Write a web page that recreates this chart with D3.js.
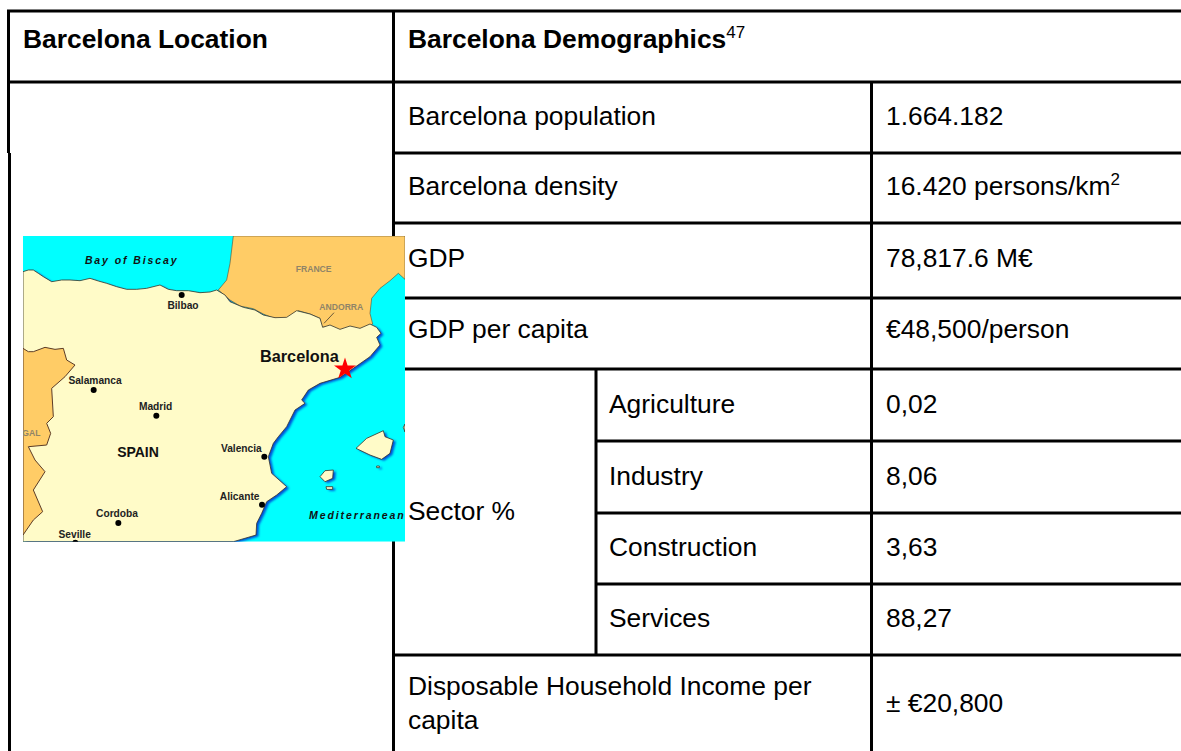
<!DOCTYPE html>
<html>
<head>
<meta charset="utf-8">
<script src="https://cdn.jsdelivr.net/npm/d3@7"></script>
<style>
  html, body { margin: 0; padding: 0; background: #fff; }
  svg { display: block; }
  text { font-family: "Liberation Sans", Arial, sans-serif; }
</style>
</head>
<body>
<script>
// Table contents
var headers = ["Barcelona Location", "Barcelona Demographics"];
var headerNote = "47";
var rowLabels = ["Barcelona population", "Barcelona density", "GDP", "GDP per capita"];
var rowValues = ["1.664.182", "16.420 persons/km", "78,817.6 M€", "€48,500/person"];
var sectorTitle = "Sector %";
var sectors = ["Agriculture", "Industry", "Construction", "Services"];
var sectorValues = ["0,02", "8,06", "3,63", "88,27"];
var incomeLabel = ["Disposable Household Income per", "capita"];
var incomeValue = "± €20,800";

// Map outlines in map units
var franceShape = [[700,48],[1215,48],[1215,178],[1195,160],[1170,182],[1140,205],[1115,235],[1110,280],[1118,312],[1100,320],[1075,328],[1050,320],[1020,330],[990,318],[965,322],[960,295],[930,282],[895,272],[880,292],[850,297],[820,294],[790,282],[760,266],[720,258],[690,240],[655,210],[680,180],[690,130]];
var spainShape = [[69,155],[85,150],[100,150],[115,160],[130,170],[155,185],[185,180],[210,180],[240,182],[270,175],[295,183],[320,190],[350,200],[380,208],[410,208],[440,205],[480,195],[505,208],[530,212],[565,212],[600,218],[630,216],[650,210],[675,225],[690,245],[730,262],[765,270],[790,285],[825,293],[860,292],[890,272],[930,282],[960,295],[968,322],[990,315],[1020,328],[1050,318],[1080,325],[1110,312],[1130,322],[1143,340],[1130,352],[1140,375],[1110,410],[1060,445],[1020,472],[960,490],[925,510],[905,540],[915,550],[885,570],[860,620],[835,650],[820,670],[805,710],[815,760],[860,800],[830,825],[800,845],[785,880],[770,910],[768,945],[700,965],[69,965]];
var portugalShape = [[69,385],[85,395],[100,395],[135,382],[165,388],[190,385],[200,420],[225,435],[195,470],[155,505],[160,590],[140,610],[152,640],[140,675],[85,680],[105,720],[135,755],[100,810],[128,875],[100,900],[69,945]];
var islandShapes = [
  [[1068,685],[1100,655],[1150,632],[1155,650],[1180,660],[1170,700],[1145,718],[1110,705]],
  [[960,770],[975,752],[1000,750],[998,775],[975,785]],
  [[978,800],[998,800],[998,808],[980,808]],
  [[1130,738],[1138,738],[1138,743],[1130,743]],
  [[1215,612],[1210,622],[1215,636]]
];
var andorraPointer = [[1002,278],[972,310]];

var cityNames = ["Bilbao", "Salamanca", "Madrid", "Valencia", "Alicante", "Cordoba", "Seville"];
var cityPoints = [[545,225],[281,510],[469,587],[793,710],[786,854],[355,909],[226,968]];
var cityLabelPoints = [[549,266],[285,491],[467,569],[724,697],[719,841],[351,891],[224,953]];
var seaNames = ["Bay of Biscay", "Mediterranean"];
var seaLabelPoints = [[395,131],[1072,898]];
var regionNames = ["FRANCE", "ANDORRA", "GAL"];
var regionLabelPoints = [[941,155],[1024,271],[94,648]];
var bigLabels = ["Barcelona"];
var bigLabelPoints = [[898,425]];
var countryLabels = ["SPAIN"];
var countryLabelPoints = [[414,712]];
var starPoint = [1035,447];

var width = 1181, height = 751;
var svg = d3.select("body").append("svg").attr("width", width).attr("height", height);

// Map scales
var mapX = d3.scaleLinear().domain([69, 1215]).range([23, 405]);
var mapY = d3.scaleLinear().domain([48, 965]).range([236, 541.7]);
var outline = d3.line().x(function(d) { return mapX(d[0]); }).y(function(d) { return mapY(d[1]); }).curve(d3.curveLinearClosed);

// Table grid
var colLeft = 9, colMain = 393.5, colSector = 596, colValue = 871.5;
var lineTop = 11, lineHead = 82, lines = [153, 223, 298, 369, 655], sectorLines = [441, 513, 584];

function hLine(x1, x2, y) {
  svg.append("line").attr("x1", x1).attr("x2", x2).attr("y1", y).attr("y2", y)
    .attr("stroke", "#000").attr("stroke-width", 3);
}
function vLine(x, y1, y2) {
  svg.append("line").attr("x1", x).attr("x2", x).attr("y1", y1).attr("y2", y2)
    .attr("stroke", "#000").attr("stroke-width", 3);
}

hLine(7, width, lineTop);
hLine(7, width, lineHead);
lines.forEach(function(y) { hLine(colMain, width, y); });
sectorLines.forEach(function(y) { hLine(colSector, width, y); });
vLine(8.5, lineTop - 1, 153);
vLine(colLeft + 0.5, 153, height);
vLine(colMain, lineTop, height);
vLine(colValue, lineHead, height);
vLine(colSector, 369, 655);

// Map
var defs = svg.append("defs");
defs.append("clipPath").attr("id", "mapClip").append("rect")
  .attr("x", mapX(69)).attr("y", mapY(48))
  .attr("width", mapX(1215) - mapX(69)).attr("height", mapY(965) - mapY(48));
defs.append("filter").attr("id", "soft").append("feGaussianBlur").attr("stdDeviation", 0.4);
defs.append("filter").attr("id", "shade").append("feGaussianBlur").attr("stdDeviation", 0.9);

var map = svg.append("g").attr("clip-path", "url(#mapClip)");
map.append("rect")
  .attr("x", mapX(69)).attr("y", mapY(48))
  .attr("width", mapX(1215) - mapX(69)).attr("height", mapY(965) - mapY(48))
  .attr("fill", "#00ffff");

var shadow = map.append("g").attr("filter", "url(#shade)");
[spainShape].concat(islandShapes).forEach(function(shape) {
  shadow.append("path").attr("d", outline(shape))
    .attr("transform", "translate(2.5,1.5)")
    .attr("fill", "#0050d8");
});

var land = map.append("g").attr("filter", "url(#soft)");
land.append("path").attr("d", outline(franceShape))
  .attr("fill", "#ffcc66").attr("stroke", "#5c4a30").attr("stroke-width", 0.6);
[spainShape].concat(islandShapes).forEach(function(shape) {
  land.append("path").attr("d", outline(shape))
    .attr("fill", "#fffbc8").attr("stroke", "#33332a").attr("stroke-width", 0.8);
});
land.append("path").attr("d", outline(portugalShape))
  .attr("fill", "#ffcc66").attr("stroke", "#5c3c28").attr("stroke-width", 1);

map.append("path").attr("d", d3.line().x(function(d) { return mapX(d[0]); }).y(function(d) { return mapY(d[1]); })(andorraPointer))
  .attr("stroke", "#6b5a3a").attr("fill", "none");

map.selectAll("circle.city").data(cityPoints).enter().append("circle")
  .attr("class", "city")
  .attr("cx", function(d) { return mapX(d[0]); })
  .attr("cy", function(d) { return mapY(d[1]); })
  .attr("r", 3).attr("fill", "#000");

function mapLabels(names, points, size, color, spacing, italic) {
  map.selectAll(null).data(names).enter().append("text")
    .attr("x", function(d, i) { return mapX(points[i][0]); })
    .attr("y", function(d, i) { return mapY(points[i][1]); })
    .attr("text-anchor", "middle")
    .attr("font-size", size)
    .attr("font-weight", "bold")
    .attr("font-style", italic ? "italic" : "normal")
    .attr("letter-spacing", spacing)
    .attr("fill", color)
    .text(function(d) { return d; });
}
mapLabels(cityNames, cityLabelPoints, 10.2, "#222", 0, false);
mapLabels(seaNames, seaLabelPoints, 10.5, "#111", 1.9, true);
mapLabels(regionNames, regionLabelPoints, 8.6, "#8f8468", 0, false);
mapLabels(bigLabels, bigLabelPoints, 16.3, "#111", 0, false);
mapLabels(countryLabels, countryLabelPoints, 14, "#111", 0, false);

map.append("path")
  .attr("d", d3.symbol().type(d3.symbolStar).size(150)())
  .attr("transform", "translate(" + mapX(starPoint[0]) + "," + mapY(starPoint[1]) + ")")
  .attr("fill", "#ff0000");

// Table text
var fontSize = 26.4;
function cellText(x, y, str, bold) {
  return svg.append("text").attr("x", x).attr("y", y)
    .attr("font-size", fontSize)
    .attr("font-weight", bold ? "bold" : "normal")
    .attr("fill", "#000").text(str);
}
function supText(parent, str) {
  parent.append("tspan").attr("dy", -10).attr("font-size", 17).attr("font-weight", "normal").text(str);
}

var textLeft = 408, textSector = 609, textValue = 886;
cellText(23, 48, headers[0], true);
supText(cellText(textLeft, 48, headers[1], true), headerNote);

var rowBase = [125, 195, 267, 338];
rowLabels.forEach(function(d, i) { cellText(textLeft, rowBase[i], d, false); });
rowValues.forEach(function(d, i) {
  var t = cellText(textValue, rowBase[i], d, false);
  if (i === 1) supText(t, "2");
});

var sectorBase = [413, 485, 556, 627];
sectors.forEach(function(d, i) { cellText(textSector, sectorBase[i], d, false); });
sectorValues.forEach(function(d, i) { cellText(textValue, sectorBase[i], d, false); });
cellText(textLeft, 520, sectorTitle, false);

cellText(textLeft, 695, incomeLabel[0], false);
cellText(textLeft, 729, incomeLabel[1], false);
cellText(textValue, 712, incomeValue, false);
</script>
</body>
</html>
